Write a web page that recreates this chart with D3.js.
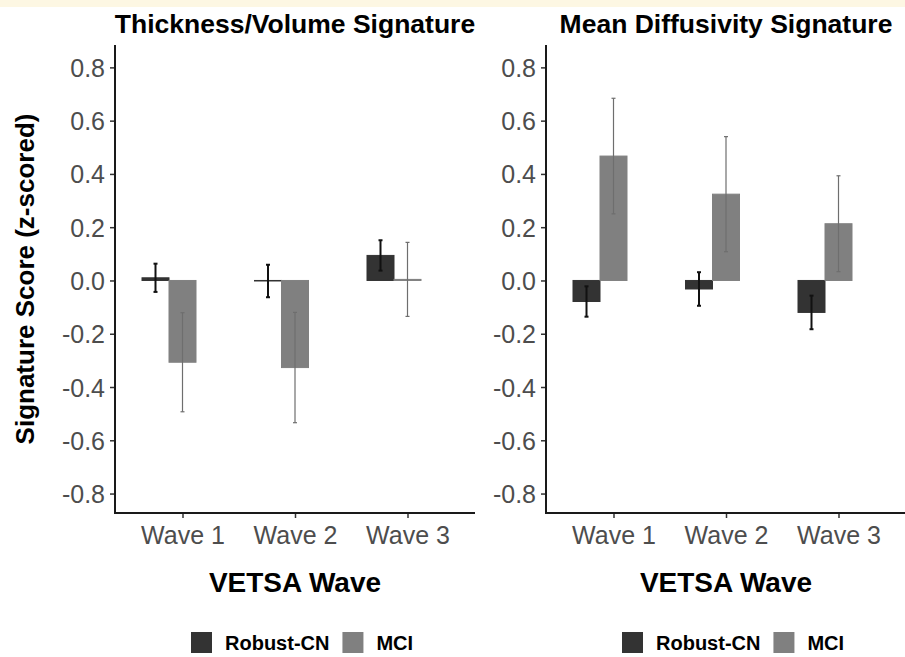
<!DOCTYPE html>
<html>
<head>
<meta charset="utf-8">
<script src="https://cdn.jsdelivr.net/npm/d3@7"></script>
<style>
  html, body { margin: 0; padding: 0; background: #fff; }
  svg { display: block; font-family: "Liberation Sans", Arial, Helvetica, sans-serif; }
</style>
</head>
<body>
<svg id="chart" width="905" height="657"></svg>
<script>
const waves = ['Wave 1', 'Wave 2', 'Wave 3'];
const groups = ['Robust-CN', 'MCI'];
const yTicks = [-0.8, -0.6, -0.4, -0.2, 0.0, 0.2, 0.4, 0.6, 0.8];

// Thickness/Volume signature: means and standard errors per wave
const thickRobustMean = [0.010, -0.002, 0.094];
const thickRobustSE = [0.053, 0.061, 0.057];
const thickMciMean = [-0.307, -0.327, 0.004];
const thickMciSE = [0.186, 0.207, 0.139];

// Mean Diffusivity signature
const diffRobustMean = [-0.079, -0.032, -0.120];
const diffRobustSE = [0.057, 0.063, 0.063];
const diffMciMean = [0.467, 0.324, 0.213];
const diffMciSE = [0.217, 0.216, 0.180];

const fillColor = { 'Robust-CN': '#333333', 'MCI': '#808080' };
const errColor = { 'Robust-CN': '#111111', 'MCI': '#6e6e6e' };
const errWidth = { 'Robust-CN': 2, 'MCI': 1.2 };

const svg = d3.select('#chart');

// faint banner strip along the top edge
svg.append('rect')
    .attr('x', 0).attr('y', 0)
    .attr('width', 905).attr('height', 7)
    .attr('fill', '#fdf7e3');

const plotTop = 45, plotBottom = 513;
const yScale = d3.scaleLinear()
    .domain([-0.873, 0.884])
    .range([plotBottom, plotTop]);

function buildRows(robMean, robSE, mciMean, mciSE) {
    const rows = [];
    waves.forEach((w, i) => {
        rows.push({ wave: w, group: 'Robust-CN', mean: robMean[i], se: robSE[i] });
        rows.push({ wave: w, group: 'MCI', mean: mciMean[i], se: mciSE[i] });
    });
    return rows;
}

function drawPanel(x0, x1, title, rows, showYTitle) {
    const g = svg.append('g');

    const xScale = d3.scalePoint()
        .domain(waves)
        .range([x0, x1])
        .padding(0.6);

    const step = xScale.step();
    const barW = step * 0.24;
    // three-level dodge with an empty third level: MCI sits on the tick
    const offset = { 'Robust-CN': -barW, 'MCI': 0 };

    g.selectAll('rect.bar')
        .data(rows)
        .enter().append('rect')
        .attr('class', 'bar')
        .attr('x', d => xScale(d.wave) + offset[d.group] - barW / 2)
        .attr('y', d => yScale(Math.max(0, d.mean)))
        .attr('width', barW)
        .attr('height', d => Math.abs(yScale(d.mean) - yScale(0)))
        .attr('fill', d => fillColor[d.group])
        .attr('stroke', d => fillColor[d.group])
        .attr('stroke-width', 1);

    const capW = 4;
    const err = g.selectAll('g.err')
        .data(rows)
        .enter().append('g')
        .attr('class', 'err')
        .attr('stroke', d => errColor[d.group])
        .attr('stroke-width', d => errWidth[d.group]);

    err.append('line')
        .attr('x1', d => xScale(d.wave) + offset[d.group])
        .attr('x2', d => xScale(d.wave) + offset[d.group])
        .attr('y1', d => yScale(d.mean + d.se))
        .attr('y2', d => yScale(d.mean - d.se));
    err.append('line')
        .attr('x1', d => xScale(d.wave) + offset[d.group] - capW / 2)
        .attr('x2', d => xScale(d.wave) + offset[d.group] + capW / 2)
        .attr('y1', d => yScale(d.mean + d.se))
        .attr('y2', d => yScale(d.mean + d.se));
    err.append('line')
        .attr('x1', d => xScale(d.wave) + offset[d.group] - capW / 2)
        .attr('x2', d => xScale(d.wave) + offset[d.group] + capW / 2)
        .attr('y1', d => yScale(d.mean - d.se))
        .attr('y2', d => yScale(d.mean - d.se));

    // axes
    const yAxis = d3.axisLeft(yScale)
        .tickValues(yTicks)
        .tickFormat(d => d.toFixed(1))
        .tickSize(5)
        .tickPadding(5);
    const ya = g.append('g')
        .attr('transform', `translate(${x0},0)`)
        .call(yAxis);

    const xAxis = d3.axisBottom(xScale)
        .tickSize(5)
        .tickPadding(8);
    const xa = g.append('g')
        .attr('transform', `translate(0,${plotBottom})`)
        .call(xAxis);

    [ya, xa].forEach(a => {
        a.select('.domain').remove();
        a.selectAll('.tick line').attr('stroke', '#333333').attr('stroke-width', 1.5);
        a.selectAll('.tick text')
            .attr('fill', '#4d4d4d')
            .style('font-size', '25px');
    });
    ya.selectAll('.tick text').attr('dy', '0.36em');
    xa.selectAll('.tick text').attr('dy', '0.72em');

    g.append('line')
        .attr('x1', x0).attr('x2', x0)
        .attr('y1', plotTop).attr('y2', plotBottom + 1)
        .attr('stroke', '#1a1a1a').attr('stroke-width', 2);
    g.append('line')
        .attr('x1', x0 - 1).attr('x2', x1)
        .attr('y1', plotBottom).attr('y2', plotBottom)
        .attr('stroke', '#1a1a1a').attr('stroke-width', 2);

    const cx = (x0 + x1) / 2;
    g.append('text')
        .attr('x', cx).attr('y', 33)
        .attr('text-anchor', 'middle')
        .attr('font-weight', 'bold')
        .attr('fill', '#000')
        .style('font-size', '26.5px')
        .text(title);

    g.append('text')
        .attr('x', cx).attr('y', 592)
        .attr('text-anchor', 'middle')
        .attr('font-weight', 'bold')
        .attr('fill', '#000')
        .style('font-size', '28px')
        .text('VETSA Wave');

    if (showYTitle) {
        g.append('text')
            .attr('transform', `translate(34,${(plotTop + plotBottom) / 2}) rotate(-90)`)
            .attr('text-anchor', 'middle')
            .attr('font-weight', 'bold')
            .attr('fill', '#000')
            .style('font-size', '26px')
            .text('Signature Score (z-scored)');
    }

    // legend below the panel
    const lg = g.append('g').attr('transform', `translate(${cx - 104},632)`);
    let lx = 0;
    groups.forEach(grp => {
        lg.append('rect')
            .attr('x', lx).attr('y', 0)
            .attr('width', 21).attr('height', 21)
            .attr('fill', fillColor[grp]);
        const t = lg.append('text')
            .attr('x', lx + 34).attr('y', 18)
            .attr('font-weight', 'bold')
            .attr('fill', '#000')
            .style('font-size', '20px')
            .text(grp);
        lx += 34 + t.node().getComputedTextLength() + 13;
    });
}

drawPanel(115, 475, 'Thickness/Volume Signature',
    buildRows(thickRobustMean, thickRobustSE, thickMciMean, thickMciSE), true);
drawPanel(546, 906, 'Mean Diffusivity Signature',
    buildRows(diffRobustMean, diffRobustSE, diffMciMean, diffMciSE), false);
</script>
</body>
</html>
